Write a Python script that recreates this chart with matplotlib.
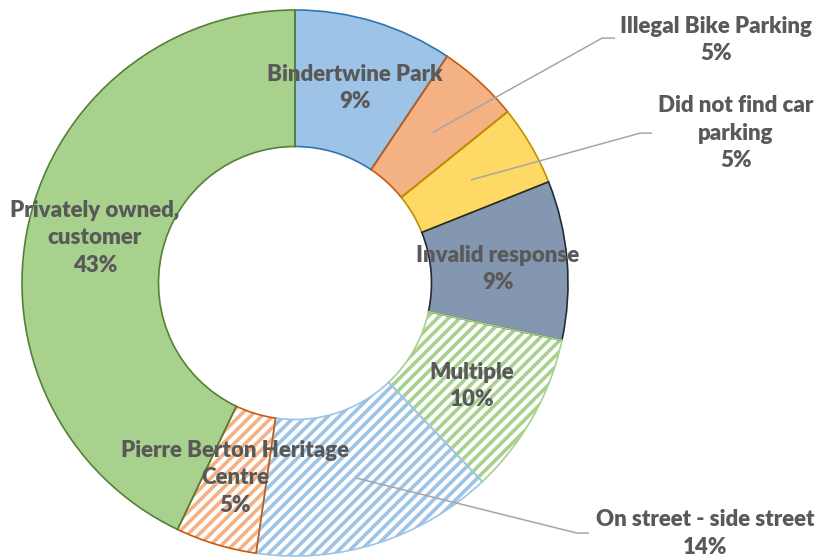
import numpy as np
import matplotlib
matplotlib.use("Agg")
import matplotlib.pyplot as plt

# ---- data (clockwise from 12 o'clock) ----
categories = ["Bindertwine Park", "Illegal Bike Parking", "Did not find car\nparking",
              "Invalid response", "Multiple", "On street - side street",
              "Pierre Berton Heritage\nCentre", "Privately owned,\ncustomer"]
values = [9.4, 4.8, 4.75, 9.4, 9.6, 14.3, 4.8, 42.9]

face_colors = ["#9DC3E6", "#F4B183", "#FFD966", "#8497B0", "white", "white", "white", "#A9D18E"]
hatch_colors = ["#9DC3E6", "#F4B183", "#FFD966", "#8497B0", "#A9D18E", "#9DC3E6", "#F4B183", "#A9D18E"]
edge_colors = ["#2E75B6", "#C55A11", "#BF9000", "#222A35", "#A9D18E", "#9DC3E6", "#C55A11", "#538135"]
hatches = [None, None, None, None, "///", "///", "///", None]

# label placement (data units, ring outer radius = 1)
label_pos = [(0.22, 0.714), (1.542, 0.89), (1.615, 0.549), (0.744, 0.051),
             (0.648, -0.377), (1.502, -0.919), (-0.22, -0.714), (-0.733, 0.165)]
# leader lines: (elbow, end) for outside labels
leaders = {1: ((1.125, 0.897), (1.17, 0.897)),
           2: ((1.264, 0.549), (1.304, 0.549)),
           5: ((1.033, -0.916), (1.074, -0.916))}

plt.rcParams["hatch.linewidth"] = 2.6
fig = plt.figure(figsize=(8.2, 5.58), dpi=100)
ax = fig.add_axes([0, 0, 1, 1])

wedges, _ = ax.pie(values, startangle=90, counterclock=False, radius=1.0,
                   colors=face_colors,
                   wedgeprops=dict(width=0.5, linewidth=0))
for w, hc, h in zip(wedges, hatch_colors, hatches):
    if h:
        w.set_hatch(h)
        w.set_edgecolor(hc)
        w.set_linewidth(0)

# outlines
outl, _ = ax.pie(values, startangle=90, counterclock=False, radius=1.0,
                 colors=["none"] * len(values),
                 wedgeprops=dict(width=0.5, linewidth=1.2))
for w, ec in zip(outl, edge_colors):
    w.set_edgecolor(ec)
    w.set_facecolor("none")

ax.set_aspect("auto")
ax.set_xlim(-295 / 273, 525 / 273)
ax.set_ylim(-275 / 273, 283 / 273)
ax.axis("off")

txt_color = "#595959"
for i, (w, lab, v) in enumerate(zip(wedges, categories, values)):
    x, y = label_pos[i]
    ax.text(x, y, f"{lab}\n{round(v)}%", ha="center", va="center",
            fontsize=16, fontweight="heavy", color=txt_color,
            family=["Lato", "DejaVu Sans"], linespacing=1.4, zorder=5)
    if i in leaders:
        mid = np.deg2rad((w.theta1 + w.theta2) / 2)
        r = 0.75
        sx, sy = r * np.cos(mid), r * np.sin(mid)
        (ex, ey), (fx, fy) = leaders[i]
        ax.plot([sx, ex, fx], [sy, ey, fy], color="#A6A6A6", lw=1.1, zorder=4)

fig.savefig("out.png", dpi=100)
